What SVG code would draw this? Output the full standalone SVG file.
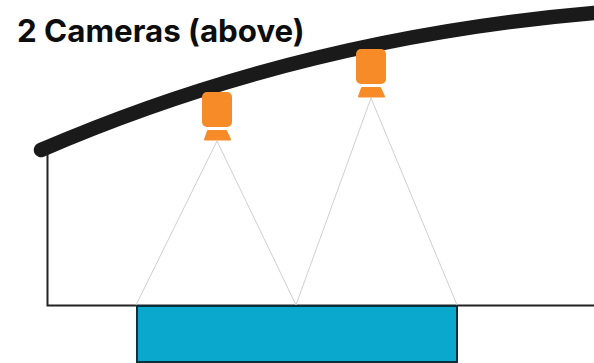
<svg xmlns="http://www.w3.org/2000/svg" width="594" height="363" viewBox="0 0 594 363">
<style>
.cam{fill:#f68b28}
.fov{fill:none;stroke:#cfcfcf;stroke-width:1}
.title{font-family:"Inter","Liberation Sans",sans-serif;font-weight:700;font-size:31.300px;fill:#0d0d0d}
</style>
<rect width="594" height="363" fill="#fff"/>
<g id="structure">
<path d="M47.500 152V305.500H594" fill="none" stroke="#222" stroke-width="2"/>
<path d="M41 150Q300 38 594 13" fill="none" stroke="#1a1a1a" stroke-width="14.500" stroke-linecap="round"/>
</g>
<g id="pool"><rect x="137" y="306" width="320" height="56" fill="#0aa8cc" stroke="#0b2f3d" stroke-width="2"/></g>
<g id="connectors">
<path class="fov" d="M136 305L217 141L296 305"/>
<path class="fov" d="M296 305L371 98L457 305"/>
</g>
<g id="camera-1">
<rect class="cam" x="202" y="92" width="30" height="35" rx="5"/>
<path class="cam" d="M208 131H226L230 139.500H205Z" stroke="#f68b28" stroke-width="2" stroke-linejoin="round"/>
</g>
<g id="camera-2">
<rect class="cam" x="356" y="49" width="30" height="35" rx="5"/>
<path class="cam" d="M362 88H380L384 96.500H359Z" stroke="#f68b28" stroke-width="2" stroke-linejoin="round"/>
</g>
<text id="title" class="title" x="17" y="42">2 Cameras (above)</text>
</svg>
